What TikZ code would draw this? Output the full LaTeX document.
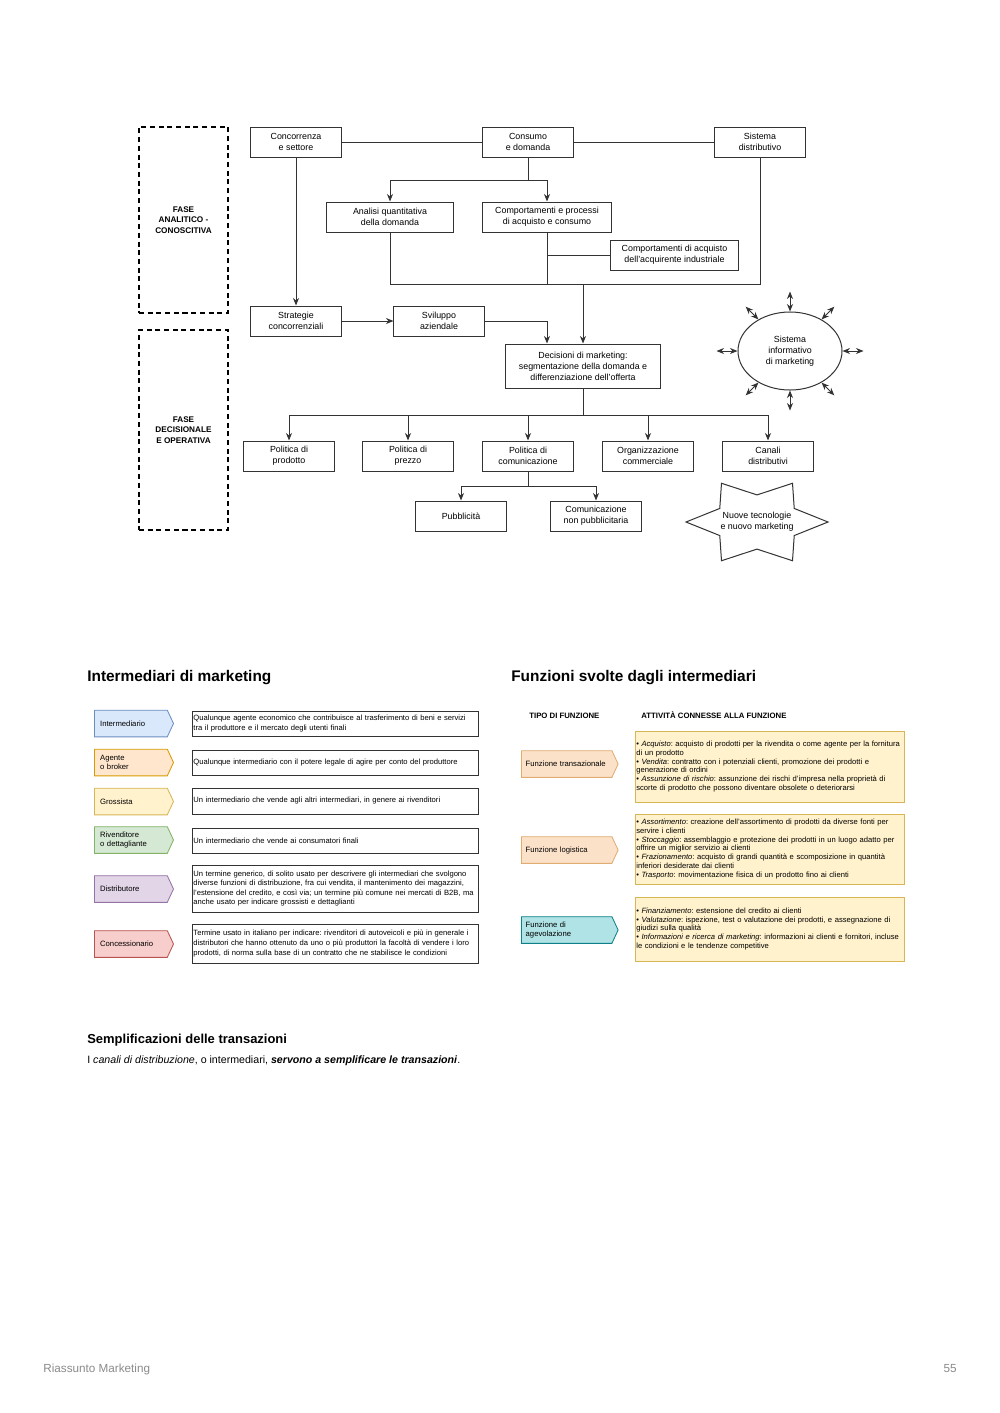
\documentclass[tikz,border=0pt]{standalone}
\usepackage{fontspec}
\setmainfont{Liberation Sans}
\usepackage{tikz}
\usetikzlibrary{arrows.meta,positioning,shapes.geometric,shapes.symbols,calc}

\definecolor{lineC}{HTML}{333333}
\definecolor{blueF}{HTML}{DAE8FC}   \definecolor{blueD}{HTML}{6C8EBF}
\definecolor{orangeF}{HTML}{FFE6CC} \definecolor{orangeD}{HTML}{D79B00}
\definecolor{peachF}{HTML}{FCE1C9}  \definecolor{peachD}{HTML}{E0AC72}
\definecolor{yellowF}{HTML}{FFF2CC} \definecolor{yellowD}{HTML}{D6B656}
\definecolor{greenF}{HTML}{D5E8D4}  \definecolor{greenD}{HTML}{82B366}
\definecolor{purpleF}{HTML}{E1D5E7} \definecolor{purpleD}{HTML}{9673A6}
\definecolor{redF}{HTML}{F8CECC}    \definecolor{redD}{HTML}{B85450}
\definecolor{tealF}{HTML}{B0E3E6}   \definecolor{tealD}{HTML}{0E8088}
\definecolor{footC}{HTML}{8A8A8A}

\begin{document}
\frenchspacing
\begin{tikzpicture}
		[
			x=0.021cm, y=-0.021cm,
			align=center,
			font=\fontsize{5.3}{6.6}\selectfont,
			box/.style={draw=lineC, line width=0.6pt, inner sep=0pt, minimum width=1.89cm, minimum height=0.63cm},
			phase/.style={draw=black, line width=1pt, dash pattern=on 3pt off 2.2pt, minimum width=1.87cm,
				font=\fontsize{4.9}{6.4}\selectfont\bfseries},
			label/.style={draw=none, fill=none, inner sep=0pt},
			line/.style={draw=lineC, line width=0.6pt},
			arrow/.style={line, -{Stealth[length=4.5pt,width=3.6pt]}},
			dbl/.style={line, {Stealth[length=4.5pt,width=3.6pt]}-{Stealth[length=4.5pt,width=3.6pt]}},
			tag/.style={signal, signal to=east, signal pointer angle=130, anchor=west, line width=0.5pt,
				minimum height=0.56cm, inner xsep=0.12cm, inner ysep=0pt, align=left,
				font=\fontsize{4.6}{5.6}\selectfont},
			defbox/.style={draw=lineC, line width=0.6pt, anchor=west, text width=5.96cm, inner xsep=0.02cm,
				inner ysep=0pt, align=left, font=\fontsize{4.55}{5.7}\selectfont},
			actbox/.style={draw=yellowD, fill=yellowF, line width=0.5pt, anchor=west, text width=5.6cm,
				inner xsep=0.02cm, inner ysep=0pt, align=left, font=\fontsize{4.55}{5.3}\selectfont},
			heading/.style={label, anchor=base west, font=\fontsize{9.2}{11}\selectfont\bfseries}
		]
		\useasboundingbox (0,0) rectangle (1000,1413);

		% phases
		\node[phase, minimum height=3.906cm] (F1) at ( 183.5, 220.0 ) {FASE\\ANALITICO -\\CONOSCITIVA};
		\node[phase, minimum height=4.2cm]   (F2) at ( 183.5, 430.0 ) {FASE\\DECISIONALE\\E OPERATIVA};

		% boxes
		\node[box]							(conc) at ( 296.0, 142.0 ) {Concorrenza\\e settore};
		\node[box]							(cons) at ( 528.0, 142.0 ) {Consumo\\e domanda};
		\node[box]							(sist) at ( 760.0, 142.0 ) {Sistema\\distributivo};
		\node[box, minimum width=2.646cm]	(anal) at ( 390.0, 217.0 ) {Analisi quantitativa\\della domanda};
		\node[box, minimum width=2.688cm]	(comp) at ( 547.0, 217.0 ) {Comportamenti e processi\\di acquisto e consumo};
		\node[box, minimum width=2.667cm]	(ind)  at ( 674.5, 255.0 ) {Comportamenti di acquisto\\dell'acquirente industriale};
		\node[box]							(strat) at ( 296.0, 321.0 ) {Strategie\\concorrenziali};
		\node[box]							(svil) at ( 439.0, 321.0 ) {Sviluppo\\aziendale};
		\node[box, minimum width=3.234cm, minimum height=0.924cm]
											(dec)  at ( 583.0, 366.0 ) {Decisioni di marketing:\\segmentazione della domanda e\\differenziazione dell'offerta};
		\node[box]							(prod) at ( 289.0, 456.0 ) {Politica di\\prodotto};
		\node[box]							(prez) at ( 408.0, 456.0 ) {Politica di\\prezzo};
		\node[box]							(comu) at ( 528.0, 456.0 ) {Politica di\\comunicazione};
		\node[box]							(org)  at ( 648.0, 456.0 ) {Organizzazione\\commerciale};
		\node[box]							(can)  at ( 768.0, 456.0 ) {Canali\\distributivi};
		\node[box]							(pub)  at ( 461.0, 516.0 ) {Pubblicità};
		\node[box]							(ncom) at ( 596.0, 516.0 ) {Comunicazione\\non pubblicitaria};
		\node[ellipse, draw=lineC, line width=0.6pt, inner sep=0pt, minimum width=2.184cm, minimum height=1.638cm]
											(info) at ( 790.0, 351.0 ) {Sistema\\informativo\\di marketing};

		% star
		\begin{scope}[shift={(757,522)}, yscale=0.63]
			\draw[line] (0:71) -- (30:43) -- (60:71) -- (90:43) -- (120:71) -- (150:43) -- (180:71)
				-- (210:43) -- (240:71) -- (270:43) -- (300:71) -- (330:43) -- cycle;
		\end{scope}
		\node[label] (nuove) at ( 757.0, 522.0 ) {Nuove tecnologie\\e nuovo marketing};

		% junctions
		\coordinate (spl) at ( 528.0, 180.0 );
		\coordinate (mrg) at ( 583.0, 284.0 );
		\coordinate (dsp) at ( 583.0, 415.0 );
		\coordinate (csp) at ( 528.0, 486.0 );

		% paths
		\draw[line] (conc) -- (cons);
		\draw[line] (cons) -- (sist);
		\draw[arrow] (conc) -- (strat);
		\draw[line] (cons) -- (spl);
		\draw[arrow] (spl) -| (anal);
		\draw[arrow] (spl) -| (comp);
		\draw[line] (anal.south) |- (mrg);
		\draw[line] (sist.south) |- (mrg);
		\draw[line] (comp.south) -- (comp.south |- mrg);
		\draw[line] (ind.west) -- (ind.west -| comp);
		\draw[arrow] (mrg) -- (dec);
		\draw[arrow] (strat) -- (svil);
		\draw[arrow] (svil) -| (comp |- dec.north);
		\draw[line] (dec) -- (dsp);
		\foreach \to in {prod,prez,comu,org,can}
		\draw[arrow] (dsp) -| (\to);
		\draw[line] (comu) -- (csp);
		\foreach \to in {pub,ncom}
		\draw[arrow] (csp) -| (\to);
		\foreach \a/\d in {0/21,45/18,90/20,135/18,180/21,225/18,270/20,315/18}
		\draw[dbl] (info.\a) -- ($(info.\a)!-\d*0.021cm!(info.center)$);

		% intermediari di marketing
		\node[heading] (hInt) at (  87.0, 681.0 ) {Intermediari di marketing};

		\node[tag, fill=blueF, draw=blueD, text width=1.29cm]     (tInt)  at (  94.0, 723.5 ) {Intermediario};
		\node[tag, fill=orangeF, draw=orangeD, text width=1.29cm] (tAge)  at (  94.0, 762.5 ) {Agente\\o broker};
		\node[tag, fill=yellowF, draw=yellowD, text width=1.29cm] (tGro)  at (  94.0, 801.5 ) {Grossista};
		\node[tag, fill=greenF, draw=greenD, text width=1.29cm]   (tRiv)  at (  94.0, 840.0 ) {Rivenditore\\o dettagliante};
		\node[tag, fill=purpleF, draw=purpleD, text width=1.29cm] (tDis)  at (  94.0, 889.0 ) {Distributore};
		\node[tag, fill=redF, draw=redD, text width=1.29cm]       (tCon)  at (  94.0, 944.0 ) {Concessionario};

		\node[defbox, minimum height=0.525cm] (dInt) at ( 192.0, 723.5 ) {Qualunque agente economico che contribuisce al trasferimento di beni e servizi\\tra il produttore e il mercato degli utenti finali};
		\node[defbox, minimum height=0.525cm] (dAge) at ( 192.0, 762.5 ) {Qualunque intermediario con il potere legale di agire per conto del produttore};
		\node[defbox, minimum height=0.546cm] (dGro) at ( 192.0, 801.0 ) {Un intermediario che vende agli altri intermediari, in genere ai rivenditori};
		\node[defbox, minimum height=0.525cm] (dRiv) at ( 192.0, 840.5 ) {Un intermediario che vende ai consumatori finali};
		\node[defbox, minimum height=0.987cm] (dDis) at ( 192.0, 888.5 ) {Un termine generico, di solito usato per descrivere gli intermediari che svolgono\\diverse funzioni di distribuzione, fra cui vendita, il mantenimento dei magazzini,\\l'estensione del credito, e così via; un termine più comune nei mercati di B2B, ma\\anche usato per indicare grossisti e dettaglianti};
		\node[defbox, minimum height=0.819cm] (dCon) at ( 192.0, 943.5 ) {Termine usato in italiano per indicare: rivenditori di autoveicoli e più in generale i\\distributori che hanno ottenuto da uno o più produttori la facoltà di vendere i loro\\prodotti, di norma sulla base di un contratto che ne stabilisce le condizioni};

		% funzioni svolte dagli intermediari
		\node[heading] (hFun) at ( 511.0, 681.0 ) {Funzioni svolte dagli intermediari};
		\node[label, anchor=west, font=\fontsize{4.65}{5.6}\selectfont\bfseries] (hTipo) at ( 529.0, 715.5 ) {TIPO DI FUNZIONE};
		\node[label, anchor=west, font=\fontsize{4.65}{5.6}\selectfont\bfseries] (hAtt)  at ( 641.0, 715.5 ) {ATTIVITÀ CONNESSE ALLA FUNZIONE};

		\node[tag, fill=peachF, draw=peachD, text width=1.72cm, inner xsep=0.09cm] (fTra) at ( 521.0, 764.0 ) {Funzione transazionale};
		\node[tag, fill=peachF, draw=peachD, text width=1.72cm, inner xsep=0.09cm] (fLog) at ( 521.0, 850.0 ) {Funzione logistica};
		\node[tag, fill=tealF, draw=tealD, text width=1.72cm, inner xsep=0.09cm]   (fAge) at ( 521.0, 930.0 ) {Funzione di\\agevolazione};

		\node[actbox, minimum height=1.491cm] (aTra) at ( 635.0, 766.5 ) {• \textit{Acquisto}: acquisto di prodotti per la rivendita o come agente per la fornitura\\di un prodotto\\• \textit{Vendita}: contratto con i potenziali clienti, promozione dei prodotti e\\generazione di ordini\\• \textit{Assunzione di rischio}: assunzione dei rischi d'impresa nella proprietà di\\scorte di prodotto che possono diventare obsolete o deteriorarsi};
		\node[actbox, minimum height=1.47cm]  (aLog) at ( 635.0, 849.0 ) {• \textit{Assortimento}: creazione dell'assortimento di prodotti da diverse fonti per\\servire i clienti\\• \textit{Stoccaggio}: assemblaggio e protezione dei prodotti in un luogo adatto per\\offrire un miglior servizio ai clienti\\• \textit{Frazionamento}: acquisto di grandi quantità e scomposizione in quantità\\inferiori desiderate dai clienti\\• \textit{Trasporto}: movimentazione fisica di un prodotto fino ai clienti};
		\node[actbox, minimum height=1.344cm] (aAge) at ( 635.0, 929.0 ) {• \textit{Finanziamento}: estensione del credito ai clienti\\• \textit{Valutazione}: ispezione, test o valutazione dei prodotti, e assegnazione di\\giudizi sulla qualità\\• \textit{Informazioni e ricerca di marketing}: informazioni ai clienti e fornitori, incluse\\le condizioni e le tendenze competitive};

		% semplificazioni
		\node[label, anchor=base west, font=\fontsize{7.75}{9}\selectfont\bfseries] (hSem) at (  87.0, 1043.0 ) {Semplificazioni delle transazioni};
		\node[label, anchor=base west, font=\fontsize{6.35}{8}\selectfont] (tSem) at (  87.0, 1063.0 )
			{I \textit{canali di distribuzione}, o intermediari, \textbf{\textit{servono a semplificare le transazioni}}.};

		% footer
		\node[label, anchor=base west, text=footC, font=\fontsize{7}{8}\selectfont] (foot) at (  43.0, 1372.0 ) {Riassunto Marketing};
		\node[label, anchor=base east, text=footC, font=\fontsize{7}{8}\selectfont] (page) at ( 957.0, 1372.0 ) {55};

	\end{tikzpicture}
\end{document}
